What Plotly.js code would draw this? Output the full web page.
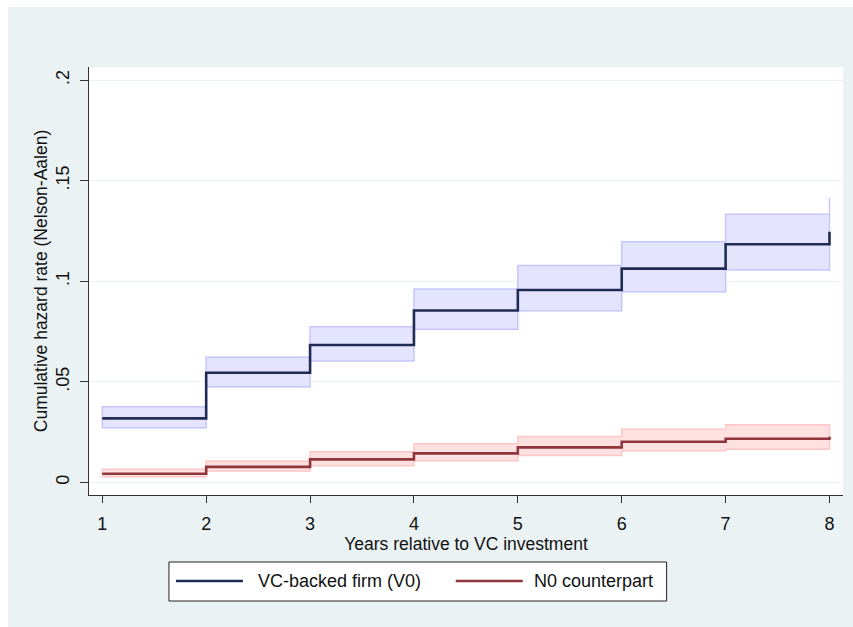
<!DOCTYPE html>
<html>
<head>
<meta charset="utf-8">
<script src="https://cdn.plot.ly/plotly-3.0.1.min.js"></script>
<style>
  html, body { margin: 0; padding: 0; background: #ffffff; }
  #chart { position: absolute; left: 8px; top: 7px; width: 845px; height: 620px; }
</style>
</head>
<body>
<div id="chart"></div>
<script>
// ---- Data ----
var years = [1, 2, 3, 4, 5, 6, 7, 8];
var vcHazard = [0.0318, 0.0545, 0.0683, 0.0855, 0.0957, 0.1063, 0.1184, 0.1247];
var vcLower  = [0.0272, 0.0476, 0.0603, 0.0761, 0.0854, 0.0948, 0.1056, 0.1110];
var vcUpper  = [0.0376, 0.0622, 0.0774, 0.0962, 0.1078, 0.1197, 0.1333, 0.1414];
var n0Hazard = [0.0043, 0.0077, 0.0114, 0.0144, 0.0174, 0.0202, 0.0217, 0.0227];
var n0Lower  = [0.0028, 0.0056, 0.0083, 0.0107, 0.0134, 0.0157, 0.0164, 0.0170];
var n0Upper  = [0.0065, 0.0106, 0.0152, 0.0192, 0.0228, 0.0264, 0.0287, 0.0290];
var yTickVals = [0, 0.05, 0.1, 0.15, 0.2];
var yTickText = ['0', '.05', '.1', '.15', '.2'];
var xTickVals = [1, 2, 3, 4, 5, 6, 7, 8];
var seriesNames = ['VC-backed firm (V0)', 'N0 counterpart'];

// ---- Build step-shaped confidence band polygon from the data arrays ----
function stepBand(x, lo, hi) {
  var px = [], py = [];
  var n = x.length;
  for (var i = 0; i < n - 1; i++) {
    px.push(x[i]); py.push(lo[i]);
    px.push(x[i + 1]); py.push(lo[i]);
  }
  px.push(x[n - 1]); py.push(lo[n - 1]);
  px.push(x[n - 1]); py.push(hi[n - 1]);
  for (var j = n - 2; j >= 0; j--) {
    px.push(x[j + 1]); py.push(hi[j]);
    px.push(x[j]); py.push(hi[j]);
  }
  px.push(x[0]); py.push(lo[0]);
  return {x: px, y: py};
}

var navy = 'rgb(32,44,84)';
var maroon = 'rgb(144,53,59)';
var vcBand = stepBand(years, vcLower, vcUpper);
var n0Band = stepBand(years, n0Lower, n0Upper);

var traces = [
  {x: vcBand.x, y: vcBand.y, mode: 'lines', fill: 'toself',
   fillcolor: 'rgba(228,228,255,1)', line: {color: 'rgba(198,198,255,1)', width: 1.5},
   hoverinfo: 'skip', showlegend: false},
  {x: n0Band.x, y: n0Band.y, mode: 'lines', fill: 'toself',
   fillcolor: 'rgba(255,222,222,0.9)', line: {color: 'rgba(255,198,198,1)', width: 1.5},
   hoverinfo: 'skip', showlegend: false},
  {x: years, y: vcHazard, mode: 'lines', name: seriesNames[0],
   line: {color: navy, width: 2.6, shape: 'hv'}, showlegend: false},
  {x: years, y: n0Hazard, mode: 'lines', name: seriesNames[1],
   line: {color: maroon, width: 2.6, shape: 'hv'}, showlegend: false}
];

// ---- Page geometry helpers (page pixels -> paper fractions) ----
var plotL = 89, plotR = 843.5, plotT = 67, plotB = 495;
function pxX(p) { return (p - plotL) / (plotR - plotL); }
function pxY(p) { return (plotB - p) / (plotB - plotT); }

var fontFam = 'Liberation Sans, Arial, sans-serif';
var legendY = 581;
var shapes = [
  {type: 'rect', xref: 'paper', yref: 'paper',
   x0: pxX(169), x1: pxX(667), y0: pxY(562), y1: pxY(601),
   line: {color: '#222', width: 1}, fillcolor: '#ffffff', layer: 'above'},
  {type: 'line', xref: 'paper', yref: 'paper',
   x0: pxX(176), x1: pxX(243), y0: pxY(legendY), y1: pxY(legendY),
   line: {color: navy, width: 2.6}},
  {type: 'line', xref: 'paper', yref: 'paper',
   x0: pxX(456), x1: pxX(523), y0: pxY(legendY), y1: pxY(legendY),
   line: {color: maroon, width: 2.6}}
];
var annotations = [
  {xref: 'paper', yref: 'paper', x: pxX(256), y: pxY(legendY), xanchor: 'left', yanchor: 'middle',
   text: seriesNames[0], showarrow: false, font: {family: fontFam, size: 18, color: '#111'}},
  {xref: 'paper', yref: 'paper', x: pxX(532), y: pxY(legendY), xanchor: 'left', yanchor: 'middle',
   text: seriesNames[1], showarrow: false, font: {family: fontFam, size: 18, color: '#111'}}
];

var layout = {
  width: 845, height: 620,
  margin: {l: plotL - 8, r: 845 - (plotR - 8), t: plotT - 7, b: 620 - (plotB - 7), pad: 0},
  paper_bgcolor: '#EAF2F3',
  plot_bgcolor: '#ffffff',
  font: {family: fontFam, color: '#111'},
  showlegend: false,
  xaxis: {
    range: [0.872, 8.13], tickvals: xTickVals, ticktext: xTickVals.map(String),
    showgrid: false, zeroline: false, showline: true, linecolor: '#333', linewidth: 1,
    ticks: 'outside', ticklen: 7, tickcolor: '#333', tickfont: {size: 18},
    ticklabelstandoff: 5,
    title: {text: 'Years relative to VC investment', font: {size: 17.5}, standoff: 0},
    automargin: false
  },
  yaxis: {
    range: [-0.0063, 0.2066], tickvals: yTickVals, ticktext: yTickText,
    showgrid: true, gridcolor: '#EAF2F3', gridwidth: 1, zeroline: false,
    showline: true, linecolor: '#333', linewidth: 1,
    ticks: 'outside', ticklen: 8, tickcolor: '#333', tickfont: {size: 18}, tickangle: -90,
    ticklabelstandoff: 4,
    title: {text: 'Cumulative hazard rate (Nelson-Aalen)', font: {size: 17.5}, standoff: 0},
    automargin: false
  },
  shapes: shapes,
  annotations: annotations
};

Plotly.newPlot('chart', traces, layout, {displayModeBar: false, staticPlot: true});
</script>
</body>
</html>
